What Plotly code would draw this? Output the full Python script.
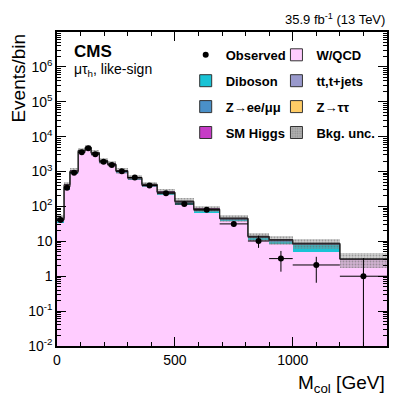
import numpy as np
import plotly.graph_objects as go

# M_col bin edges (GeV)
edges = [0, 30, 55, 90, 120, 145, 180, 215, 250, 300, 360, 425, 500, 580, 690, 810, 900, 1000, 1200, 1400]

# data
observed = [41, 345, 920, 3550, 4650, 3150, 1900, 1550, 1020, 680, 400, 240, 118, 80, 31.6, 10.2, 3.2, 2.1, 1.0]
obs_err_up = [7.5, 19.6, 31, 60, 69, 57, 44, 40, 33, 27, 21, 16.5, 11.9, 10, 6.7, 4.3, 2.1, 1.5, 2.3]
obs_err_down = [6.4, 18.6, 30, 59, 68, 56, 43, 39, 32, 26, 20, 15.5, 10.9, 9, 5.6, 3.7, 1.85, 1.45, 0.999]

# backgrounds, bottom of the stack first
w_qcd = [34, 300, 900, 3600, 4500, 3100, 1800, 1450, 930, 580, 370, 220, 115, 68, 39, 11, 8.3, 5.1, 3.0]
diboson = [1, 5, 10, 20, 25, 25, 22, 20, 18, 16, 14, 13, 12, 7, 3.2, 1.5, 1.9, 2.9, 0.05]
z_ll = [6, 60, 50, 150, 200, 140, 90, 70, 45, 25, 14, 7, 4, 3, 1.5, 0.4, 0.3, 0.2, 0.02]
tt_jets = [0.5, 5, 20, 80, 120, 100, 75, 65, 50, 40, 25, 15, 8, 5, 2, 0.8, 0.5, 0.5, 0.02]
z_tautau = [4, 50, 60, 200, 180, 110, 70, 45, 25, 15, 8, 4, 2.5, 1.5, 0.5, 0.2, 0.2, 0.1, 0.01]
sm_higgs = [0.2, 2, 5, 15, 20, 15, 8, 5, 3, 2, 1, 0.6, 0.3, 0.2, 0.1, 0.05, 0.03, 0.02, 0.01]
# relative bkg uncertainty per bin
bkg_unc = [0.22, 0.2, 0.18, 0.18, 0.18, 0.18, 0.18, 0.18, 0.18, 0.18, 0.18, 0.2, 0.2, 0.2, 0.22, 0.25, 0.3, 0.3, 0.45]

y_tickvals = [1e-2, 1e-1, 1, 10, 1e2, 1e3, 1e4, 1e5, 1e6]
y_ticktext = ["10<sup>-2</sup>", "10<sup>-1</sup>", "1", "10", "10<sup>2</sup>", "10<sup>3</sup>",
              "10<sup>4</sup>", "10<sup>5</sup>", "10<sup>6</sup>"]
x_tickvals = [0, 500, 1000]

e = np.array(edges, dtype=float)
centers = (e[:-1] + e[1:]) / 2
widths = np.diff(e)

layers = [
    ("W/QCD", w_qcd, "#ffccff"),
    ("Diboson", diboson, "#19c3d5"),
    ("Z→ee/μμ", z_ll, "#4a90c8"),
    ("tt,t+jets", tt_jets, "#9999cc"),
    ("Z→ττ", z_tautau, "#ffcc66"),
    ("SM Higgs", sm_higgs, "#c63cc6"),
]

fig = go.Figure()

bottom = np.full(len(centers), 1e-3)
for i, (name, vals, col) in enumerate(layers):
    vals = np.array(vals, dtype=float)
    fig.add_trace(go.Bar(x=centers, y=vals, base=bottom, width=widths,
                         marker=dict(color=col, line=dict(width=0)),
                         showlegend=False, hoverinfo="skip"))
    bottom = bottom + vals
    if i >= 2:
        # dark outline on top of the thin layers
        fig.add_trace(go.Scatter(x=e, y=np.append(bottom, bottom[-1]), mode="lines",
                                 line=dict(color="#222222", width=0.7, shape="hv"),
                                 showlegend=False, hoverinfo="skip"))

total = bottom
unc = np.array(bkg_unc)
lo = total * (1 - unc)
hi = total * (1 + unc)
fig.add_trace(go.Bar(x=centers, y=hi - lo, base=lo, width=widths,
                     marker=dict(color="rgba(140,140,140,0.4)", line=dict(width=0),
                                 pattern=dict(shape=".", fgcolor="#666666", size=3, solidity=0.3)),
                     showlegend=False, hoverinfo="skip"))

fig.add_trace(go.Scatter(
    x=centers, y=observed, mode="markers", name="Observed",
    marker=dict(color="black", size=6),
    error_y=dict(type="data", symmetric=False, array=obs_err_up, arrayminus=obs_err_down,
                 color="black", thickness=1, width=0),
    error_x=dict(type="data", array=widths / 2, color="black", thickness=1, width=0),
    legend="legend", legendgroup="obs", legendrank=1))

# legend boxes
leg_items = [
    ("Diboson", "#19c3d5", "legend", 2, None),
    ("Z→ee/μμ", "#4a90c8", "legend", 3, None),
    ("SM Higgs", "#c63cc6", "legend", 4, None),
    ("W/QCD", "#ffccff", "legend2", 1, None),
    ("tt,t+jets", "#9999cc", "legend2", 2, None),
    ("Z→ττ", "#ffcc66", "legend2", 3, None),
    ("Bkg. unc.", "rgba(170,170,170,0.9)", "legend2", 4, "."),
]
for name, col, leg, rank, pat in leg_items:
    mk = dict(color=col, line=dict(color="#333333", width=1))
    if pat:
        mk["pattern"] = dict(shape=pat, fgcolor="#666666", size=3, solidity=0.3)
    fig.add_trace(go.Bar(x=[None], y=[None], name=name, marker=mk,
                         legend=leg, legendgroup=name, legendrank=rank))

leg_style = dict(yanchor="top", xanchor="left", bgcolor="rgba(0,0,0,0)",
                 font=dict(size=13, weight="bold"), tracegroupgap=6, itemwidth=30)

fig.update_layout(
    width=407, height=395,
    margin=dict(l=57, r=20, t=32, b=49),
    plot_bgcolor="white", paper_bgcolor="white",
    barmode="overlay", bargap=0,
    font=dict(family="Liberation Sans, Arial, sans-serif", size=14, color="black"),
    legend=dict(x=0.39, y=0.975, **leg_style),
    legend2=dict(x=0.665, y=0.975, **leg_style),
)

fig.update_xaxes(range=[0, 1400], showline=True, linecolor="black", linewidth=1.5, mirror="allticks",
                 ticks="inside", ticklen=9, tickwidth=1, tickcolor="black", tickvals=x_tickvals,
                 minor=dict(ticks="inside", ticklen=4.5, dtick=100, tickcolor="black"),
                 showgrid=False, zeroline=False)
fig.update_yaxes(type="log", range=[-2, 7], showline=True, linecolor="black", linewidth=1.5, mirror="allticks",
                 ticks="inside", ticklen=9, tickwidth=1, tickcolor="black",
                 tickvals=y_tickvals, ticktext=y_ticktext,
                 minor=dict(ticks="inside", ticklen=4.5, dtick="D1", tickcolor="black"),
                 showgrid=False, zeroline=False)

fig.add_annotation(text="<b>CMS</b>", x=0.044, y=0.937, xref="paper", yref="paper",
                   xanchor="left", yanchor="middle", showarrow=False, font=dict(size=17))
fig.add_annotation(text="μτ<sub>h</sub>, like-sign", x=0.044, y=0.878, xref="paper", yref="paper",
                   xanchor="left", yanchor="middle", showarrow=False, font=dict(size=14))
fig.add_annotation(text="35.9 fb<sup>-1</sup> (13 TeV)", x=1.0, y=1.0, xref="paper", yref="paper",
                   xanchor="right", yanchor="bottom", yshift=3, showarrow=False, font=dict(size=13))
fig.add_annotation(text="Events/bin", x=-0.118, y=1.0, xref="paper", yref="paper", textangle=-90,
                   xanchor="center", yanchor="top", showarrow=False, font=dict(size=19))
fig.add_annotation(text="M<sub>col</sub> [GeV]", x=1.0, y=-0.075, xref="paper", yref="paper",
                   xanchor="right", yanchor="top", showarrow=False, font=dict(size=19))

# page has a default body margin; drop it so the figure sits at the window origin
fig.write_html("out.html", config={"displayModeBar": False},
               post_script="document.body.style.margin='0px';")
